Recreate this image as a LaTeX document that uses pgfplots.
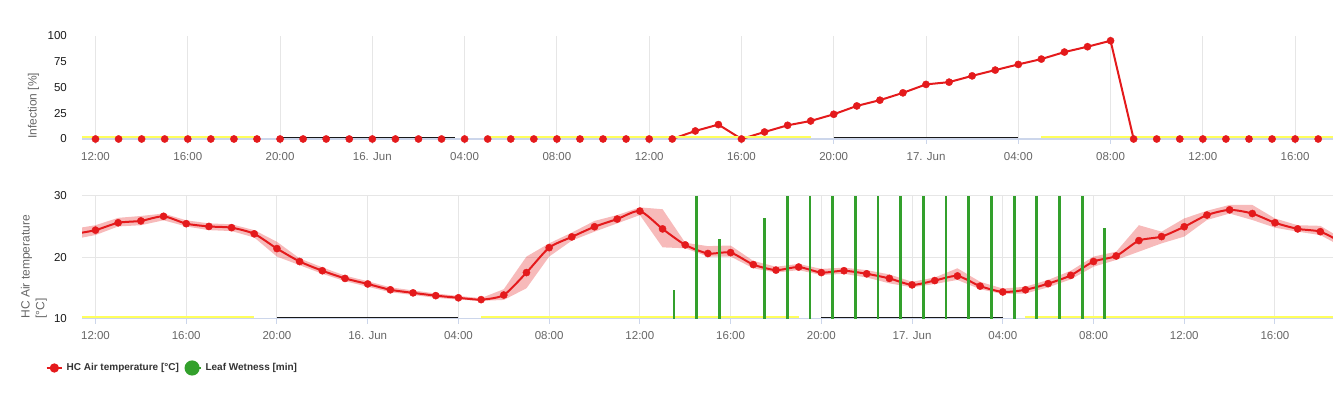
\documentclass[border=0pt]{standalone}
\usepackage{fontspec}
\setmainfont{Liberation Sans}
\usepackage{pgfplots}
\pgfplotsset{compat=1.18}
\usepackage{pgfplotstable}
\usepgfplotslibrary{fillbetween}

\definecolor{cred}{HTML}{E41A1C}
\definecolor{cgreen}{HTML}{33A02C}
\definecolor{cgrid}{HTML}{E6E6E6}
\definecolor{caxis}{HTML}{CCD6EB}
\definecolor{cyel}{HTML}{FFFF5C}
\definecolor{cnight}{HTML}{1A1A1A}
\definecolor{ctick}{HTML}{666666}
\definecolor{cdark}{HTML}{1A1A1A}
\definecolor{clegend}{HTML}{333333}

\pgfplotstableread{
h v
12 0
13 0
14 0
15 0
16 0
17 0
18 0
19 0
20 0
21 0
22 0
23 0
24 0
25 0
26 0
27 0
28 0
29 0
30 0
31 0
32 0
33 0
34 0
35 0
36 0
37 0
38 7.8
39 14.0
40 0
41 6.8
42 13.3
43 17.5
44 24.0
45 32.1
46 37.7
47 44.8
48 53.0
49 55.2
50 61.3
51 66.9
52 72.4
53 77.6
54 84.4
55 89.6
56 95.4
57 0
58 0
59 0
60 0
61 0
62 0
63 0
64 0
65 0
}\infection

\pgfplotstableread{
h t lo hi
11 23.75 22.9 24.6
12 24.4 23.6 25.2
13 25.6 25.0 26.4
14 25.9 25.2 26.7
15 26.65 26.0 27.1
16 25.45 25.0 26.0
17 25.0 24.4 25.5
18 24.8 24.25 25.35
19 23.8 23.2 24.4
20 21.4 20.1 22.5
21 19.3 18.7 19.8
22 17.8 17.3 18.35
23 16.55 16.1 17.0
24 15.65 15.2 16.1
25 14.7 14.3 15.1
26 14.2 13.85 14.6
27 13.75 13.4 14.1
28 13.4 13.1 13.7
29 13.1 12.9 13.35
30 13.85 13.05 14.8
31 17.5 14.95 20.1
32 21.55 20.1 22.25
33 23.3 22.7 24.0
34 24.95 24.15 25.9
35 26.2 25.5 26.85
36 27.5 26.85 28.1
37 24.6 21.6 27.8
38 22.0 21.45 22.35
39 20.6 20.1 21.8
40 20.75 20.1 21.9
41 18.8 18.2 19.4
42 17.9 17.5 18.45
43 18.4 17.9 18.9
44 17.5 17.1 18.1
45 17.8 17.3 18.3
46 17.3 16.7 17.9
47 16.55 15.75 17.2
48 15.5 15.1 16.0
49 16.2 15.65 16.7
50 16.95 16.3 18.2
51 15.3 14.8 16.0
52 14.35 14.0 14.9
53 14.7 14.1 15.2
54 15.7 15.1 16.3
55 17.05 16.4 17.8
56 19.3 18.45 20.1
57 20.2 19.55 20.9
58 22.7 20.9 25.2
59 23.35 22.25 24.15
60 24.95 23.35 26.3
61 26.85 26.05 27.55
62 27.7 27.1 28.5
63 27.1 26.05 28.5
64 25.6 24.8 26.3
65 24.6 24.15 25.2
66 24.15 23.6 25.1
67 22.3 21.6 22.9
}\temp

\pgfplotstableread{
h m
37.5 14
38.5 60
39.5 39
41.5 49
42.5 60
43.5 60
44.5 60
45.5 60
46.5 60
47.5 60
48.5 60
49.5 60
50.5 60
51.5 60
52.5 60
53.5 60
54.5 60
55.5 60
56.5 44
}\wet

\pgfplotsset{
  common/.style={
    scale only axis, width=1251pt,
    axis x line*=bottom, axis y line*=left,
    x axis line style={draw=caxis, line width=1.5pt},
    y axis line style={draw=none},
    xtick={12,16,...,64},
    xticklabels={12:00,16:00,20:00,16. Jun,04:00,08:00,12:00,16:00,20:00,17. Jun,04:00,08:00,12:00,16:00},
    xmajorgrids,
    major grid style={draw=cgrid, line width=1pt},
    tick align=outside, major tick length=5pt,
    xtick style={draw=caxis, line width=1pt},
    ytick style={draw=none},
    xticklabel style={font=\fontsize{11.5}{13}\selectfont, text=ctick, anchor=base, yshift=-16.3pt},
    yticklabel style={font=\fontsize{11.5}{13}\selectfont, text=cdark, anchor=east, inner sep=0pt, xshift=-10pt},
    /pgf/number format/assume math mode=true,
  }
}

\begin{document}
\begin{tikzpicture}

% ---------- top: infection ----------
\begin{axis}[common,
  at={(82pt,257pt)}, anchor=south west, height=103pt,
  xmin=11.415, xmax=65.64, ymin=0, ymax=100,
  ytick={0,25,50,75,100},
  ylabel={Infection [\%]},
  every axis y label/.style={at={(axis description cs:-0.0388,0)}, rotate=90, anchor=west, inner sep=0pt,
    font=\fontsize{12}{14.7}\selectfont, text=ctick},
]
\addplot[cred, line width=2pt, line join=round, restrict x to domain=37:57] table[x=h,y=v]{\infection};
\addplot[cyel, line width=1.5pt] coordinates {(11.415,2.0) (19,2.0)};
\addplot[cyel, line width=1.5pt] coordinates {(29,2.0) (43,2.0)};
\addplot[cyel, line width=1.5pt] coordinates {(53,2.0) (65.64,2.0)};
\addplot[cnight, line width=1.3pt] coordinates {(20,1.6) (27.6,1.6)};
\addplot[cnight, line width=1.3pt] coordinates {(44,1.6) (52,1.6)};
\addplot[only marks, mark=*, mark size=3.6pt, color=cred, mark options={fill=cred, draw=none}] table[x=h,y=v]{\infection};
\end{axis}

% ---------- bottom: temperature + leaf wetness ----------
\begin{axis}[common,
  at={(82pt,77.3pt)}, anchor=south west, height=123pt,
  xmin=11.405, xmax=66.56, ymin=10, ymax=30,
  ytick={10,20,30}, ymajorgrids,
  ylabel={HC Air temperature\\{[°C]}},
  every axis y label/.style={at={(axis description cs:-0.0384,0)}, rotate=90, anchor=west, inner sep=0pt,
    align=left, font=\fontsize{12}{14.7}\selectfont, text=ctick},
  legend columns=-1,
  legend style={at={(axis description cs:-0.029,-0.4008)}, anchor=west, draw=none, fill=none,
    inner sep=0pt, outer sep=0pt,
    nodes={inner sep=0pt, text=clegend},
    font=\bfseries\fontsize{10}{12}\selectfont,
    /tikz/every even column/.append style={column sep=5.6pt},
    /tikz/every odd column/.append style={column sep=3.6pt}},
]
\addplot[name path=hi, draw=none, forget plot] table[x=h,y=hi]{\temp};
\addplot[name path=lo, draw=none, forget plot] table[x=h,y=lo]{\temp};
\addplot[fill=cred, fill opacity=0.3, draw=none, forget plot] fill between[of=hi and lo];
\addplot[cred, line width=2pt, smooth, tension=0.4,
  legend image code/.code={\draw[cred, line width=2pt] (0pt,0pt) -- (15.3pt,0pt);
     \fill[cred] (7.65pt,0pt) circle (3.6pt);}] table[x=h,y=t]{\temp};
\addlegendentry{HC Air temperature {[°C]}}
\addplot[cyel, line width=1.4pt, forget plot] coordinates {(11.405,10.25) (19,10.25)};
\addplot[cyel, line width=1.4pt, forget plot] coordinates {(29,10.25) (43,10.25)};
\addplot[cyel, line width=1.4pt, forget plot] coordinates {(53,10.25) (66.56,10.25)};
\addplot[cnight, line width=1.3pt, forget plot] coordinates {(20,10.25) (28,10.25)};
\addplot[cnight, line width=1.3pt, forget plot] coordinates {(44,10.25) (52,10.25)};
\addplot[ycomb, cgreen, line width=2.8pt, mark=none,
  legend image code/.code={\fill[cgreen] (6.15pt,0pt) circle (6.15pt); \path (0pt,0pt) -- (14.6pt,0pt);}]
  table[x=h, y expr=10+\thisrow{m}/3]{\wet};
\addlegendentry{Leaf Wetness [min]}
\addplot[only marks, mark=*, mark size=3.6pt, color=cred, mark options={fill=cred, draw=none},
  restrict x to domain=12:66, forget plot] table[x=h,y=t]{\temp};
\end{axis}
\pgfresetboundingbox
\path[use as bounding box] (0pt,0pt) rectangle (1333pt,396pt);
\end{tikzpicture}
\end{document}
